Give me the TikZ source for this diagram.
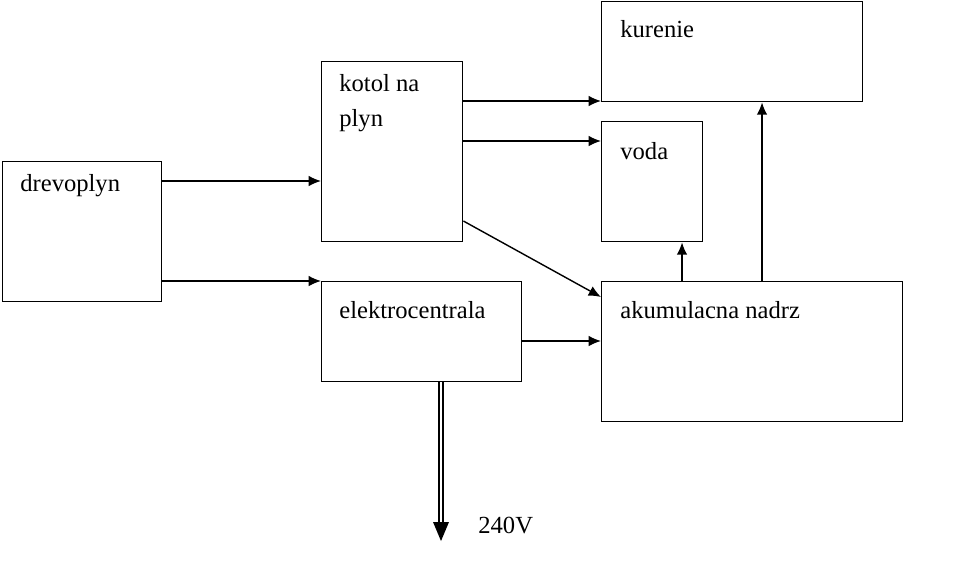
\documentclass[tikz,border=0pt]{standalone}
\usepackage{fontspec}
\setmainfont{Liberation Serif}
\usetikzlibrary{arrows.meta}
\begin{document}
\begin{tikzpicture}[
            x=0.02cm,   % 1 px
            y=-0.02cm,
            box/.style={draw, line width=0.8pt, anchor=north west, inner sep=0pt},
            txt/.style={anchor=west, inner sep=0pt, font=\fontsize{14}{20}\selectfont, align=left},
            pfeil/.style={line width=0.8pt, -{Latex[length=7pt,width=6pt]}}
        ]
            \useasboundingbox (0,0) rectangle (969,579);
            % bloky
            \node[box, minimum width=3.18cm, minimum height=2.8cm] (drevo) at (2,161) {};
            \node[box, minimum width=2.82cm, minimum height=3.6cm] (kotol) at (321,61) {};
            \node[box, minimum width=4cm, minimum height=2cm] (elektro) at (321,281) {};
            \node[box, minimum width=5.22cm, minimum height=2cm] (kurenie) at (601,1) {};
            \node[box, minimum width=2.02cm, minimum height=2.4cm] (voda) at (601,121) {};
            \node[box, minimum width=6.02cm, minimum height=2.8cm] (akum) at (601,281) {};

            % texty
            \node[txt] (tdrevo) at (20,186) {drevoplyn};
            \node[txt, anchor=north west] (tkotol) at (339,74) {kotol na\\plyn};
            \node[txt] (telektro) at (339,310) {elektrocentrala};
            \node[txt] (tkurenie) at (620,29) {kurenie};
            \node[txt] (tvoda) at (620,151) {voda};
            \node[txt] (takum) at (620,310) {akumulacna nadrz};
            \node[txt] (tvolt) at (478,525) {240V};

            % sipky
            \draw[pfeil] (drevo.east |- 0,181) -- (kotol.west |- 0,181);
            \draw[pfeil] (drevo.east |- 0,281) -- (elektro.north west);
            \draw[pfeil] (kotol.east |- 0,101) -- (kurenie.west |- 0,101);
            \draw[pfeil] (kotol.east |- 0,141) -- (voda.west |- 0,141);
            \draw[pfeil] (kotol.east |- 0,221) -- (akum.west |- 0,297);
            \draw[pfeil] (elektro.east |- 0,341) -- (akum.west |- 0,341);
            \draw[pfeil] (akum.north -| 682,0) -- (voda.south -| 682,0);
            \draw[pfeil] (akum.north -| 762,0) -- (kurenie.south -| 762,0);

            % 240V vystup
            \coordinate (vyst) at (441,526);
            \draw[double, double distance=1.2pt, line width=0.9pt] (elektro.south -| 441,0) -- (vyst);
            \fill (433,522) -- (449,522) -- (441,541) -- cycle;
        \end{tikzpicture}
\end{document}
